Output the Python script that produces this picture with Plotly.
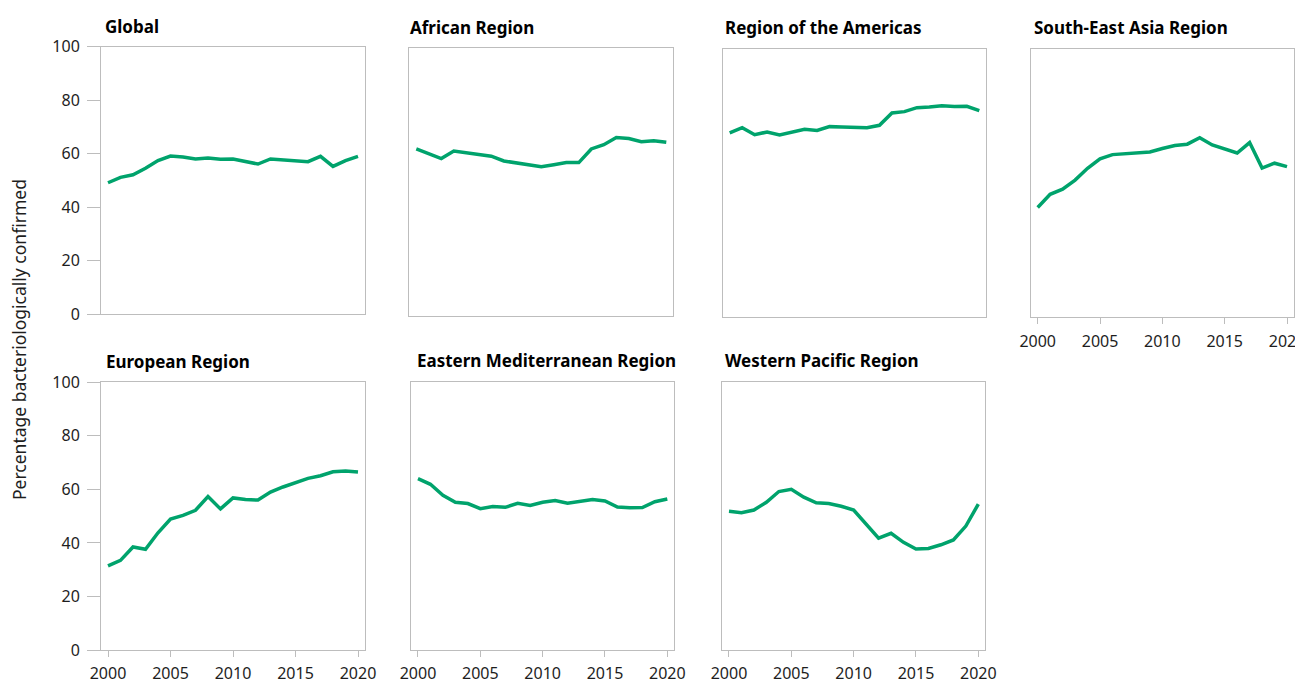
import plotly.graph_objects as go

years = list(range(2000, 2021))

regions = ["Global", "African Region", "Region of the Americas", "South-East Asia Region",
           "European Region", "Eastern Mediterranean Region", "Western Pacific Region"]

global_vals = [49.1, 51.1, 52.1, 54.5, 57.4, 59.1, 58.7, 58.0, 58.4, 57.9, 58.0,
               57.2, 56.1, 58.0, 57.7, 57.1, 57.0, 59.0, 55.2, 57.4, 59.0]
african_vals = [62.4, 60.6, 58.8, 61.6, 60.9, 60.4, 59.7, 57.9, 57.2, 56.3, 55.8,
                56.5, 57.3, 57.3, 62.4, 64.0, 66.7, 66.3, 65.1, 65.5, 64.9]
americas_vals = [68.7, 70.6, 68.0, 69.0, 67.9, 69.0, 70.0, 69.6, 71.0, 70.9, 70.7,
                 70.6, 71.5, 76.1, 76.6, 78.1, 78.3, 78.8, 78.5, 78.6, 77.0]
sea_vals = [41.0, 45.9, 47.8, 51.2, 55.6, 59.1, 60.7, 61.0, 61.2, 61.7, 63.0,
            64.1, 64.6, 67.0, 64.3, 62.8, 61.3, 65.2, 55.7, 57.5, 56.2]
european_vals = [31.4, 33.5, 38.5, 37.6, 43.8, 48.9, 50.3, 52.2, 57.3, 52.7, 56.8,
                 56.2, 56.0, 59.0, 60.9, 62.4, 64.1, 65.1, 66.6, 66.9, 66.5]
emr_vals = [64.0, 61.9, 57.8, 55.2, 54.7, 52.8, 53.6, 53.3, 54.8, 54.0, 55.2,
            55.8, 54.8, 55.4, 56.2, 55.7, 53.4, 53.1, 53.2, 55.4, 56.4]
wpr_vals = [51.8, 51.3, 52.3, 55.2, 59.2, 60.0, 57.1, 55.0, 54.7, 53.7, 52.3,
            47.2, 41.8, 43.6, 40.2, 37.7, 37.9, 39.3, 41.1, 46.3, 54.5]

series = [global_vals, african_vals, americas_vals, sea_vals,
          european_vals, emr_vals, wpr_vals]

y_ticks = [0, 20, 40, 60, 80, 100]
x_ticks = [2000, 2005, 2010, 2015, 2020]
y_title = "Percentage bacteriologically confirmed"

# the page body has an 8px margin; figure is sized/positioned to compensate.
# Extra width/height keeps edge tick labels from being dropped or clipped.
OFF = 8
EXTRA_W = 24
EXTRA_H = 12
W, H = 1303 - OFF + EXTRA_W, 682 - OFF + EXTRA_H
# panel boxes in page pixels: (left, top, right, bottom)
boxes = [(101, 46.7, 365, 314), (409.3, 48.3, 673.3, 316), (722.7, 49, 986.3, 316.7),
         (1030.7, 49.3, 1294, 317.3),
         (101, 382.3, 365, 650), (411, 382.3, 674.3, 650), (722, 382.3, 985.3, 650)]
title_pos = [(103, 26), (408.3, 28), (723.3, 28), (1031.7, 28),
             (104.3, 361.7), (415, 360.7), (722.7, 360)]
show_y = [True, False, False, False, True, False, False]
show_x = [False, False, False, True, True, True, True]

GREEN = "#00A36C"
GRID = "#bdbdbd"
TXT = "#1e1e1e"
FONT = "Noto Sans"


def px(x):
    return (x - OFF) / W


def py(y):
    return 1 - (y - OFF) / H


fig = go.Figure()
layout = dict(width=W, height=H, margin=dict(l=0, r=0, t=0, b=0, autoexpand=False),
              paper_bgcolor="white", plot_bgcolor="white", showlegend=False,
              font=dict(family=FONT, color=TXT))
annotations = []
for i, (name, vals) in enumerate(zip(regions, series)):
    n = "" if i == 0 else str(i + 1)
    fig.add_trace(go.Scatter(x=years, y=vals, mode="lines",
                             line=dict(color=GREEN, width=3.5),
                             xaxis="x" + n, yaxis="y" + n, name=name))
    l, t, r, b = boxes[i]
    layout["xaxis" + n] = dict(
        domain=[px(l), px(r)], range=[1999.44, 2020.56], anchor="y" + n,
        automargin=False,
        showline=True, mirror=True, linecolor=GRID, linewidth=1,
        showgrid=False, zeroline=False, fixedrange=True,
        tickmode="array", tickvals=x_ticks,
        ticks="outside" if show_x[i] else "", ticklen=6, tickcolor=GRID,
        ticklabelstandoff=3,
        showticklabels=show_x[i], tickfont=dict(size=16, color=TXT, family=FONT))
    layout["yaxis" + n] = dict(
        domain=[py(b), py(t)], range=[0, 100], anchor="x" + n,
        automargin=False,
        showline=True, mirror=True, linecolor=GRID, linewidth=1,
        showgrid=False, zeroline=False, fixedrange=True,
        tickmode="array", tickvals=y_ticks,
        ticks="outside" if show_y[i] else "", ticklen=13, tickcolor=GRID,
        ticklabelstandoff=4,
        showticklabels=show_y[i], tickfont=dict(size=16, color=TXT, family=FONT))
    tx, ty = title_pos[i]
    annotations.append(dict(text="<b>" + name + "</b>", x=px(tx), y=py(ty),
                            xref="paper", yref="paper", xanchor="left", yanchor="middle",
                            showarrow=False, font=dict(size=17, color="#000", family=FONT)))

annotations.append(dict(text=y_title, x=px(19), y=py(340), xref="paper", yref="paper",
                        xanchor="center", yanchor="middle", textangle=-90, showarrow=False,
                        font=dict(size=17.5, color=TXT, family=FONT)))
layout["annotations"] = annotations
fig.update_layout(**layout)
fig.write_html("out.html")
